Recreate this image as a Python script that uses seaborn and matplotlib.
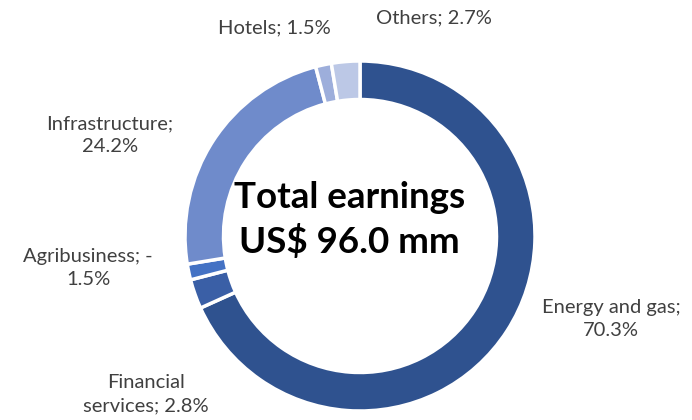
import matplotlib
matplotlib.use("Agg")
import matplotlib.pyplot as plt
import seaborn as sns

# Earnings breakdown by segment (share of total, %)
categories = ["Energy and gas", "Financial services", "Agribusiness",
              "Infrastructure", "Hotels", "Others"]
shares = [70.3, 2.8, -1.5, 24.2, 1.5, 2.7]
colors = ["#2F528F", "#3A5FA6", "#4472C4", "#6F8BCB", "#9DAEDB", "#BCC8E6"]
center_title = "Total earnings"
center_value = "US$ 96.0 mm"

# Label layouts with their line breaks
label_breaks = ["Energy and gas;\n{v}", "Financial\nservices; {v}", "Agribusiness; {s}\n{a}",
                "Infrastructure;\n{v}", "Hotels; {v}", "Others; {v}"]
# Label anchor points in axis data units (pie radius = 1)
label_pos = [(1.434, -0.474), (-1.223, -0.903), (-1.554, -0.183),
             (-1.43, 0.577), (-0.49, 1.19), (0.42, 1.246)]

sns.set_theme(style="white")
plt.rcParams["font.family"] = ["Lato", "DejaVu Sans"]

fig = plt.figure(figsize=(6.92, 4.2), dpi=100)
ax = fig.add_axes([0, 0, 1, 1])

sizes = [abs(v) for v in shares]
ax.pie(sizes, colors=colors, startangle=90, counterclock=False,
       wedgeprops=dict(width=0.22, edgecolor="white", linewidth=2.5))

for tmpl, v, (x, y) in zip(label_breaks, shares, label_pos):
    txt = tmpl.format(v=f"{v:.1f}%", s="-" if v < 0 else "", a=f"{abs(v):.1f}%")
    ax.text(x, y, txt, ha="center", va="center", fontsize=14.5,
            color="#404040", linespacing=1.45)

ax.text(-0.06, 0.09, f"{center_title}\n{center_value}", ha="center", va="center",
        fontsize=26.5, fontweight="bold", color="black", linespacing=1.35)

ax.set_aspect("equal")
ax.set_xlim(-360 / 175, (692 - 360) / 175)
ax.set_ylim(-(420 - 236) / 175, 236 / 175)
ax.axis("off")

fig.savefig("out.png", dpi=100, facecolor="white")
